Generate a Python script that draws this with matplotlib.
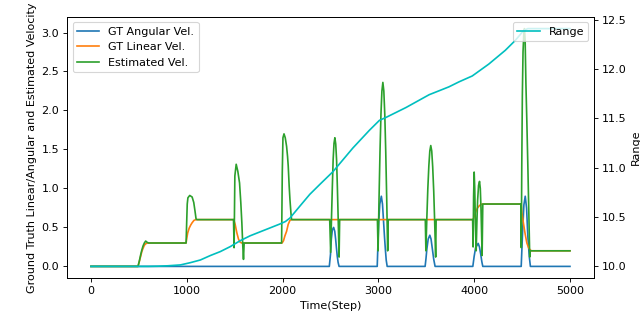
import matplotlib
matplotlib.use("Agg")
import matplotlib.pyplot as plt

# GT angular velocity (step, value)
ang_steps = [0, 2488, 2500, 2509, 2520, 2533, 2545, 2554, 2563, 2571, 2580, 2590,
             2988, 2996, 3003, 3015, 3031, 3043, 3055, 3064, 3073, 3082, 3092,
             3488, 3497, 3506, 3520, 3537, 3550, 3564, 3578, 3592,
             3986, 4000, 4015, 4042, 4055, 4068, 4080, 4090,
             4491, 4505, 4519, 4533, 4547, 4560, 4575, 4587, 5000]
ang_vals = [0, 0, 0.15, 0.35, 0.47, 0.50, 0.45, 0.35, 0.23, 0.13, 0.05, 0.0,
            0, 0.30, 0.56, 0.80, 0.90, 0.80, 0.56, 0.38, 0.22, 0.08, 0.0,
            0, 0.10, 0.22, 0.35, 0.40, 0.35, 0.22, 0.09, 0.0,
            0, 0.13, 0.24, 0.295, 0.25, 0.16, 0.06, 0.0,
            0, 0.43, 0.79, 0.90, 0.75, 0.39, 0.13, 0.0, 0.0]

# GT linear velocity
lin_steps = [0, 491, 500, 519, 531, 543, 557, 571, 590,
             993, 1000, 1010, 1025, 1041, 1056, 1075, 1095,
             1490, 1505, 1523, 1540, 1557, 1575,
             1995, 2010, 2024, 2042, 2059, 2077, 2090,
             3990, 4005, 4020, 4035, 4055, 4080,
             4490, 4498, 4516, 4533, 4550, 4568, 4585, 4600, 5000]
lin_vals = [0, 0, 0.04, 0.13, 0.19, 0.23, 0.27, 0.29, 0.30,
            0.30, 0.36, 0.43, 0.49, 0.53, 0.56, 0.59, 0.60,
            0.60, 0.54, 0.43, 0.35, 0.31, 0.30,
            0.30, 0.33, 0.39, 0.45, 0.54, 0.59, 0.60,
            0.60, 0.66, 0.71, 0.75, 0.78, 0.80,
            0.80, 0.69, 0.54, 0.41, 0.30, 0.24, 0.21, 0.20, 0.20]

# Estimated velocity
est_steps = [0, 491, 505, 519, 531, 543, 557, 571, 585, 602,
             993, 1000, 1005, 1012, 1031, 1056, 1073, 1086, 1097, 1105,
             1488, 1494, 1502, 1516, 1533, 1551, 1564, 1575, 1585, 1592, 1599,
             1990, 1997, 2004, 2015, 2028, 2042, 2052, 2059, 2069, 2077, 2087, 2094,
             2492, 2502, 2511, 2520, 2528, 2537, 2546, 2555, 2564, 2572, 2581, 2590, 2596,
             2990, 2997, 3007, 3017, 3027, 3037, 3047, 3057, 3067, 3077, 3087, 3097, 3103,
             3490, 3496, 3506, 3516, 3527, 3537, 3547, 3557, 3567, 3578, 3588, 3598, 3603,
             3984, 3989, 3994, 4000, 4006, 4013, 4021, 4028, 4036, 4046, 4056, 4064, 4071,
             4077, 4083, 4090,
             4488, 4492, 4497, 4503, 4510, 4518, 4525, 4532, 4540, 4550, 4561, 4572, 4580,
             4586, 5000]
est_vals = [0, 0, 0.07, 0.15, 0.21, 0.26, 0.30, 0.325, 0.31, 0.30,
            0.30, 0.60, 0.80, 0.88, 0.91, 0.89, 0.82, 0.71, 0.61, 0.60,
            0.60, 0.24, 1.16, 1.31, 1.22, 1.07, 0.82, 0.56, 0.26, 0.09, 0.30,
            0.30, 1.20, 1.65, 1.70, 1.65, 1.54, 1.41, 1.29, 1.03, 0.86, 0.69, 0.60,
            0.60, 0.18, 0.63, 1.04, 1.37, 1.58, 1.65, 1.57, 1.36, 1.02, 0.59, 0.12, 0.60,
            0.60, 0.20, 0.87, 1.47, 1.95, 2.25, 2.36, 2.25, 1.95, 1.47, 0.87, 0.20, 0.60,
            0.60, 0.20, 0.62, 0.99, 1.29, 1.48, 1.55, 1.48, 1.28, 0.96, 0.56, 0.12, 0.60,
            0.60, 0.25, 0.90, 1.21, 1.00, 0.55, 0.20, 0.55, 0.85, 1.04, 1.09, 1.00, 0.75,
            0.45, 0.14, 0.80,
            0.80, 0.24, 1.30, 2.20, 2.75, 2.98, 3.05, 2.90, 2.35, 1.85, 1.25, 0.60, 0.12,
            0.20, 0.20]

# Range
rng_steps = [0, 600, 700, 800, 934, 1038, 1142, 1246, 1350, 1453, 1557, 1661, 1765,
             1869, 1973, 2030, 2077, 2180, 2284, 2388, 2526, 2734, 2907, 3011, 3080,
             3288, 3530, 3634, 3737, 3841, 3980, 4152, 4325, 4429, 4516, 4560, 5000]
rng_vals = [10.0, 10.0, 10.002, 10.006, 10.015, 10.038, 10.065, 10.11, 10.15, 10.20,
            10.26, 10.31, 10.35, 10.39, 10.43, 10.455, 10.49, 10.61, 10.73, 10.83,
            10.96, 11.20, 11.38, 11.48, 11.51, 11.61, 11.74, 11.78, 11.82, 11.87,
            11.93, 12.05, 12.19, 12.29, 12.39, 12.41, 12.41]

fig = plt.figure(figsize=(8, 3.9125), dpi=80)
ax = fig.add_subplot(111)
fig.subplots_adjust(left=0.1047, right=0.928, top=0.9466, bottom=0.1109)

ax.plot(ang_steps, ang_vals, color="C0", label="GT Angular Vel.")
ax.plot(lin_steps, lin_vals, color="C1", label="GT Linear Vel.")
ax.plot(est_steps, est_vals, color="C2", label="Estimated Vel.")
ax.set_xlabel("Time(Step)")
ax.set_ylabel("Ground Truth Linear/Angular and Estimated Velocity")
ax.legend(loc="upper left")

ax2 = ax.twinx()
ax2.plot(rng_steps, rng_vals, color="c", label="Range")
ax2.set_ylabel("Range")
ax2.legend(loc="upper right")

fig.savefig("out.png", dpi=80)
